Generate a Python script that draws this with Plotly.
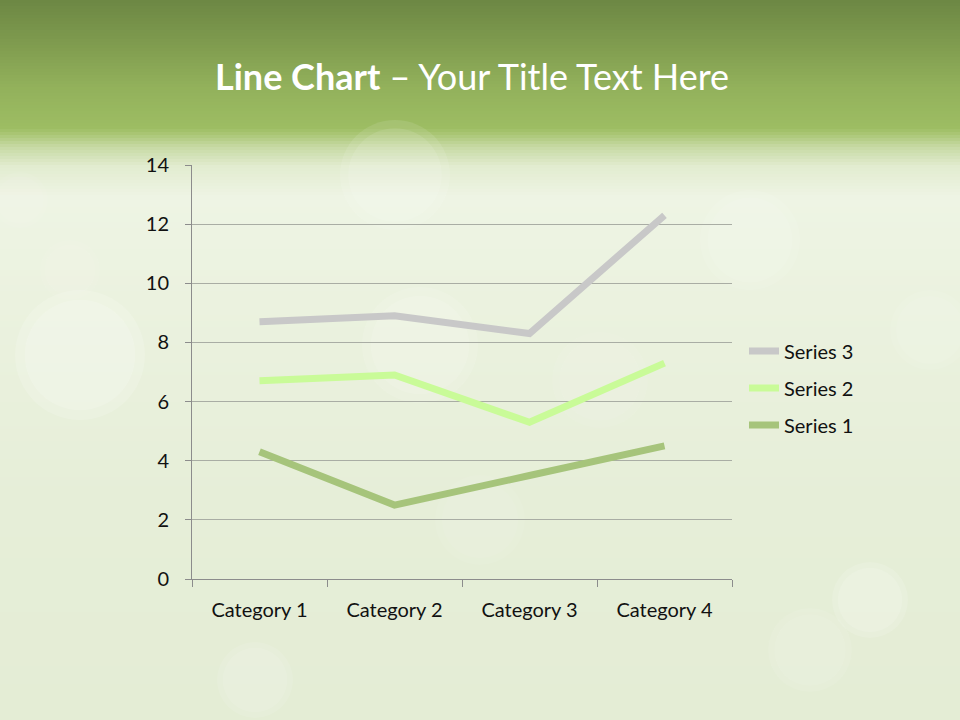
import plotly.graph_objects as go

categories = ["Category 1", "Category 2", "Category 3", "Category 4"]
series1 = [4.3, 2.5, 3.5, 4.5]
series2 = [6.7, 6.9, 5.3, 7.3]
series3 = [8.7, 8.9, 8.3, 12.3]
y_ticks = [0, 2, 4, 6, 8, 10, 12, 14]

W, H = 960, 720
L, R, T, B = 192, 732, 165, 579


def px(x):
    return (x - L) / (R - L)


def py(y):
    return (B - y) / (B - T)


def lerp(c1, c2, t):
    a = [int(c1[i:i + 2], 16) for i in (1, 3, 5)]
    b = [int(c2[i:i + 2], 16) for i in (1, 3, 5)]
    return "#%02x%02x%02x" % tuple(round(a[k] + (b[k] - a[k]) * t) for k in range(3))


stops = [(0, "#6d8844"), (40, "#7e9a4e"), (85, "#92b15b"), (126, "#9dbd63"),
         (130, "#a4c26c"), (145, "#c6d9a3"), (165, "#e2ecd0"), (195, "#eef4e4"),
         (300, "#ebf2df"), (500, "#e6eed8"), (720, "#e4edd5")]

shapes = []
step = 3
y = 0
while y < H:
    for i in range(len(stops) - 1):
        if stops[i][0] <= y < stops[i + 1][0]:
            t = (y - stops[i][0]) / (stops[i + 1][0] - stops[i][0])
            col = lerp(stops[i][1], stops[i + 1][1], t)
            break
    else:
        col = stops[-1][1]
    shapes.append(dict(type="rect", xref="paper", yref="paper",
                       x0=px(0), x1=px(W), y0=py(y), y1=py(y + step + 1),
                       fillcolor=col, line=dict(width=0), layer="below"))
    y += step

bokeh = [(80, 355, 65, 0.3), (420, 345, 58, 0.22), (395, 175, 55, 0.2),
         (750, 240, 50, 0.18), (870, 600, 38, 0.25), (255, 680, 38, 0.2),
         (480, 520, 45, 0.12), (930, 330, 40, 0.15), (70, 270, 30, 0.12),
         (600, 380, 48, 0.12), (810, 650, 42, 0.15), (20, 200, 28, 0.12)]
for cx, cy, r, op in bokeh:
    for k, f in enumerate((1.0, 0.85)):
        shapes.append(dict(type="circle", xref="paper", yref="paper",
                           x0=px(cx - r * f), x1=px(cx + r * f),
                           y0=py(cy + r * f), y1=py(cy - r * f),
                           fillcolor="rgba(255,255,255,%.3f)" % (op * 0.5),
                           line=dict(width=0), layer="below"))

fig = go.Figure()
fig.add_trace(go.Scatter(x=categories, y=series1, name="Series 1", mode="lines",
                         legendgroup="s1", legendrank=3,
                         line=dict(color="#a6c47b", width=7)))
fig.add_trace(go.Scatter(x=categories, y=series2, name="Series 2", mode="lines",
                         legendgroup="s2", legendrank=2,
                         line=dict(color="#c9fb98", width=7)))
fig.add_trace(go.Scatter(x=categories, y=series3, name="Series 3", mode="lines",
                         legendgroup="s3", legendrank=1,
                         line=dict(color="#c8c8c8", width=7)))

font = "Lato, 'Open Sans', sans-serif"

fig.update_layout(
    width=W, height=H,
    margin=dict(l=L, r=W - R, t=T, b=H - B, pad=0),
    paper_bgcolor="#eaf1de",
    plot_bgcolor="rgba(0,0,0,0)",
    shapes=shapes,
    showlegend=True,
    legend=dict(x=px(744), y=py(388), xanchor="left", yanchor="middle",
                traceorder="grouped", bgcolor="rgba(0,0,0,0)",
                font=dict(family=font, size=20, color="#111111"),
                itemwidth=30, tracegroupgap=8),
    annotations=[dict(text="<b>Line Chart</b> – Your Title Text Here",
                      xref="paper", yref="paper", x=px(472), y=py(76),
                      xanchor="center", yanchor="middle", showarrow=False,
                      font=dict(family=font, size=36, color="#ffffff"))],
    xaxis=dict(type="category", range=[-0.5, 3.5], showgrid=False,
               showline=True, linecolor="#8c8c8c", linewidth=1,
               ticks="outside", tickson="boundaries", ticklen=7,
               tickcolor="#8c8c8c", ticklabelstandoff=13,
               tickfont=dict(family=font, size=20, color="#111111"),
               fixedrange=True),
    yaxis=dict(range=[0, 14], tickvals=y_ticks, showgrid=True,
               gridcolor="#a9ada4", gridwidth=1,
               showline=True, linecolor="#8c8c8c", linewidth=1,
               ticks="outside", ticklen=6, tickcolor="#8c8c8c",
               zeroline=False, ticklabelstandoff=12,
               tickfont=dict(family=font, size=20, color="#111111"),
               fixedrange=True),
)

fig.write_html("out.html", config={"displayModeBar": False},
               post_script="document.body.style.margin='0';document.body.style.overflow='hidden';")
